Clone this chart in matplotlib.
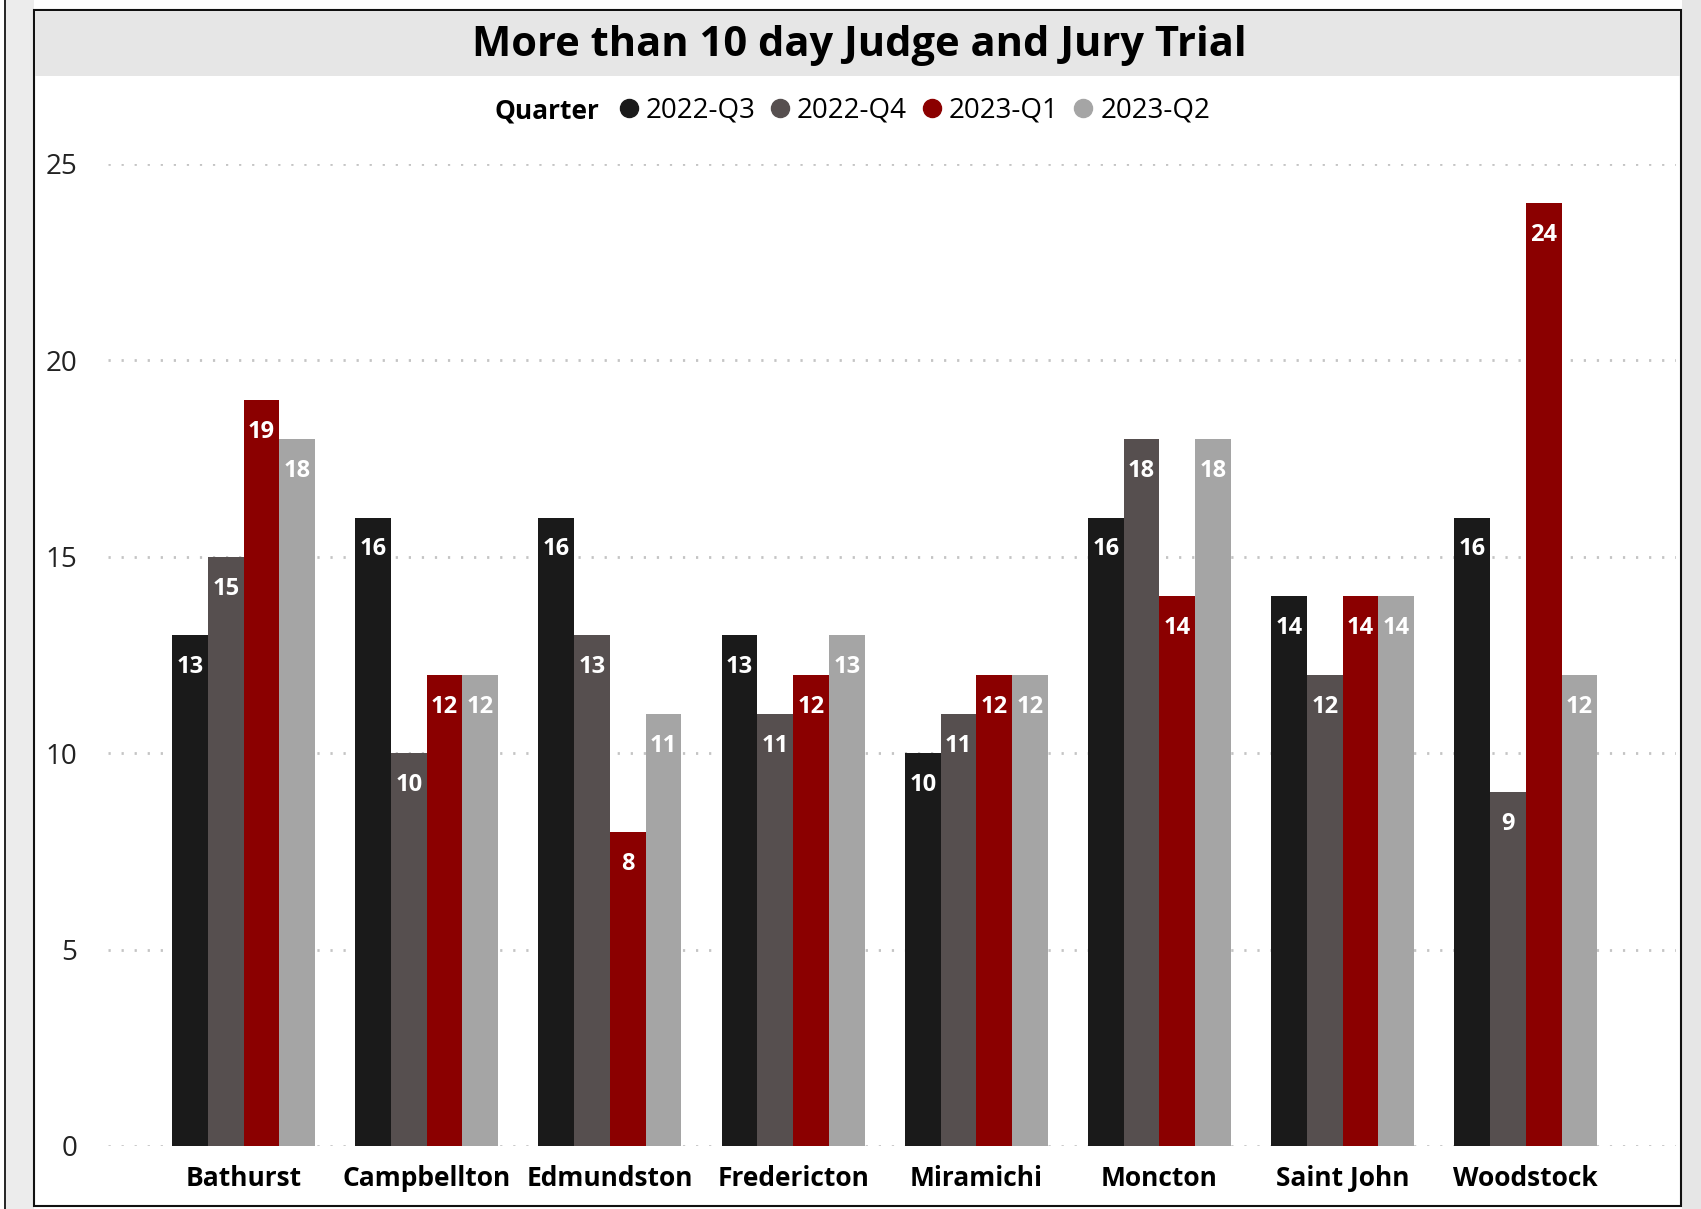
import matplotlib
matplotlib.use("Agg")
import matplotlib.pyplot as plt
import numpy as np
from matplotlib.lines import Line2D
from matplotlib.patches import Rectangle

plt.rcParams['font.family'] = ['Open Sans', 'DejaVu Sans']

categories = ["Bathurst", "Campbellton", "Edmundston", "Fredericton",
              "Miramichi", "Moncton", "Saint John", "Woodstock"]
quarters = ["2022-Q3", "2022-Q4", "2023-Q1", "2023-Q2"]
q2022_3 = [13, 16, 16, 13, 10, 16, 14, 16]
q2022_4 = [15, 10, 13, 11, 11, 18, 12, 9]
q2023_1 = [19, 12, 8, 12, 12, 14, 14, 24]
q2023_2 = [18, 12, 11, 13, 12, 18, 14, 12]
series = [q2022_3, q2022_4, q2023_1, q2023_2]
colors = ["#1a1a1a", "#564f4f", "#8b0000", "#a5a5a5"]
yticks = [0, 5, 10, 15, 20, 25]
title = "More than 10 day Judge and Jury Trial"

W, H = 1701, 1209
fig = plt.figure(figsize=(W / 100, H / 100), dpi=100)
fig.patch.set_facecolor("white")

def fx(px):
    return px / W

def fy(py):
    return 1 - py / H

# shadows / neighbouring panel
fig.patches.append(Rectangle((fx(6), 0), fx(28), 1, transform=fig.transFigure,
                             facecolor="#ececec", edgecolor="none", zorder=0))
fig.patches.append(Rectangle((fx(1682), 0), fx(19), 1, transform=fig.transFigure,
                             facecolor="#e6e6e6", edgecolor="none", zorder=0))
fig.lines.append(Line2D([fx(5), fx(5)], [0, 1], transform=fig.transFigure,
                        color="black", lw=1.2))
# chart frame
fig.patches.append(Rectangle((fx(34), fy(1206)), fx(1681 - 34), (1206 - 10) / H,
                             transform=fig.transFigure, facecolor="white",
                             edgecolor="#111111", lw=1.5, zorder=1))
# title band
fig.patches.append(Rectangle((fx(35), fy(76)), fx(1680 - 35), (76 - 11) / H,
                             transform=fig.transFigure, facecolor="#e6e6e6",
                             edgecolor="none", zorder=2))
fig.text(fx(859), fy(46), title, ha="center", va="center", fontsize=30,
         fontweight="bold", color="black", zorder=3)

ax = fig.add_axes([fx(108), fy(1146), fx(1676 - 108), (1146 - 164) / H])
ax.set_zorder(5)
ax.set_facecolor("none")
x = np.arange(len(categories))
bw = 0.195
for i, (vals, c) in enumerate(zip(series, colors)):
    xs = x + (i - 1.5) * bw
    bars = ax.bar(xs, vals, width=bw, color=c, label=quarters[i], zorder=2)
    for b, v in zip(bars, vals):
        ax.annotate(str(v), (b.get_x() + b.get_width() / 2, v),
                    xytext=(0, -23), textcoords="offset points",
                    ha="center", va="center", color="white",
                    fontsize=17, fontweight="bold", zorder=3)

ax.set_ylim(0, 25)
ax.set_xlim(-0.74, 7.82)
ax.set_yticks(yticks)
ax.set_yticklabels([str(t) for t in yticks], fontsize=20, color="#222222")
ax.set_xticks(x)
ax.set_xticklabels(categories, fontsize=19, fontweight="bold")
ax.tick_params(axis="both", length=0)
ax.tick_params(axis="x", pad=14)
ax.tick_params(axis="y", pad=22)
for s in ax.spines.values():
    s.set_visible(False)
ax.grid(axis="y", color="#c4c4c4", linestyle=(0, (0.8, 3.9)), lw=2, zorder=0)
ax.set_axisbelow(True)

handles = [Line2D([], [], marker="o", linestyle="", color=c, markersize=13)
           for c in colors]
leg = fig.legend(handles, quarters, loc="center left",
                 bbox_to_anchor=(fx(619), fy(111)), ncol=4, frameon=False,
                 fontsize=20, handlelength=0.7, handletextpad=0.25,
                 columnspacing=0.55, borderpad=0, borderaxespad=0)
leg.set_zorder(6)
fig.text(fx(599), fy(111), "Quarter", ha="right", va="center", fontsize=19,
         fontweight="bold", zorder=6)

fig.savefig("out.png", dpi=100)
